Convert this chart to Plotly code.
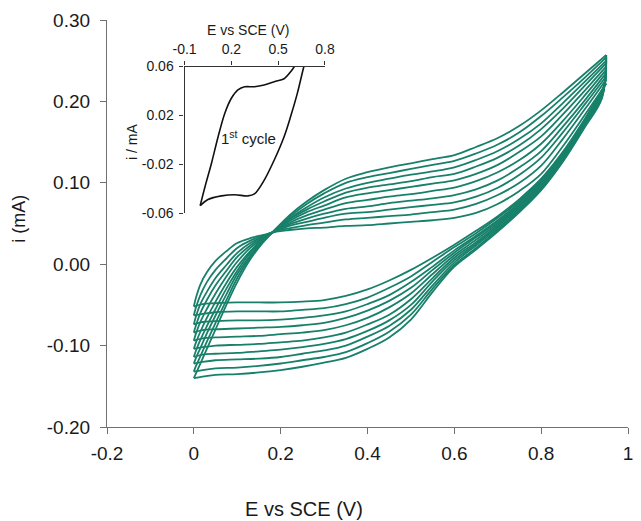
import plotly.graph_objects as go

# ---------------- data ----------------
# potential grid of the forward (anodic) and reverse (cathodic) sweeps, V vs SCE
E_anodic = [0, 0.005, 0.015, 0.03, 0.05, 0.075, 0.1, 0.13, 0.16, 0.19, 0.22, 0.26, 0.3,
            0.35, 0.4, 0.45, 0.5, 0.55, 0.6, 0.65, 0.7, 0.75, 0.8, 0.85, 0.9, 0.95]
E_cathodic = [0.95, 0.94, 0.9, 0.85, 0.8, 0.75, 0.7, 0.65, 0.6, 0.55, 0.5, 0.45, 0.4, 0.35,
              0.3, 0.25, 0.2, 0.15, 0.1, 0.05, 0.02, 0]

# current (mA) of the ten successive cycles, forward sweep
i_anodic = [
    [-0.052, -0.041, -0.025, -0.010, 0.004, 0.016, 0.026, 0.032, 0.036, 0.040, 0.042, 0.044, 0.045, 0.047, 0.048, 0.050, 0.052, 0.054, 0.057, 0.063, 0.074, 0.090, 0.111, 0.145, 0.183, 0.222],
    [-0.063, -0.053, -0.038, -0.022, -0.007, 0.007, 0.020, 0.029, 0.035, 0.041, 0.044, 0.048, 0.051, 0.055, 0.057, 0.059, 0.061, 0.064, 0.067, 0.074, 0.085, 0.100, 0.121, 0.154, 0.190, 0.227],
    [-0.074, -0.064, -0.049, -0.034, -0.017, -0.001, 0.014, 0.026, 0.034, 0.041, 0.047, 0.052, 0.057, 0.062, 0.064, 0.067, 0.070, 0.073, 0.076, 0.083, 0.094, 0.110, 0.131, 0.162, 0.196, 0.231],
    [-0.084, -0.075, -0.060, -0.044, -0.026, -0.008, 0.009, 0.023, 0.033, 0.041, 0.049, 0.056, 0.062, 0.068, 0.071, 0.075, 0.078, 0.081, 0.085, 0.092, 0.103, 0.119, 0.139, 0.169, 0.201, 0.235],
    [-0.094, -0.085, -0.071, -0.055, -0.036, -0.015, 0.003, 0.020, 0.032, 0.042, 0.051, 0.060, 0.067, 0.075, 0.079, 0.083, 0.086, 0.090, 0.094, 0.102, 0.113, 0.128, 0.148, 0.176, 0.207, 0.239],
    [-0.104, -0.096, -0.083, -0.066, -0.046, -0.023, -0.003, 0.016, 0.031, 0.042, 0.053, 0.064, 0.072, 0.082, 0.087, 0.091, 0.095, 0.099, 0.103, 0.111, 0.122, 0.138, 0.157, 0.184, 0.213, 0.243],
    [-0.114, -0.106, -0.093, -0.076, -0.055, -0.030, -0.008, 0.014, 0.030, 0.043, 0.055, 0.067, 0.077, 0.088, 0.094, 0.098, 0.102, 0.107, 0.111, 0.120, 0.131, 0.146, 0.166, 0.191, 0.219, 0.247],
    [-0.122, -0.115, -0.103, -0.085, -0.063, -0.037, -0.012, 0.011, 0.029, 0.043, 0.056, 0.070, 0.082, 0.093, 0.100, 0.105, 0.110, 0.114, 0.119, 0.128, 0.139, 0.154, 0.173, 0.198, 0.224, 0.250],
    [-0.132, -0.125, -0.113, -0.095, -0.072, -0.044, -0.017, 0.009, 0.028, 0.044, 0.058, 0.074, 0.087, 0.100, 0.107, 0.112, 0.117, 0.122, 0.127, 0.136, 0.147, 0.162, 0.182, 0.205, 0.229, 0.254],
    [-0.140, -0.134, -0.122, -0.104, -0.080, -0.050, -0.022, 0.006, 0.027, 0.044, 0.060, 0.077, 0.091, 0.105, 0.113, 0.119, 0.124, 0.129, 0.134, 0.144, 0.155, 0.170, 0.189, 0.211, 0.234, 0.257],
]
# current (mA) of the ten successive cycles, reverse sweep
i_cathodic = [
    [0.222, 0.214, 0.178, 0.138, 0.105, 0.080, 0.059, 0.041, 0.024, 0.008, -0.007, -0.020, -0.031, -0.039, -0.044, -0.046, -0.047, -0.047, -0.047, -0.048, -0.049, -0.052],
    [0.227, 0.213, 0.177, 0.136, 0.103, 0.078, 0.057, 0.038, 0.021, 0.003, -0.015, -0.029, -0.041, -0.049, -0.054, -0.056, -0.058, -0.058, -0.058, -0.059, -0.061, -0.063],
    [0.231, 0.212, 0.176, 0.135, 0.102, 0.076, 0.054, 0.035, 0.017, -0.003, -0.022, -0.038, -0.049, -0.058, -0.063, -0.066, -0.068, -0.069, -0.069, -0.070, -0.071, -0.074],
    [0.235, 0.210, 0.174, 0.134, 0.100, 0.074, 0.052, 0.033, 0.014, -0.007, -0.029, -0.045, -0.057, -0.066, -0.072, -0.075, -0.077, -0.078, -0.079, -0.080, -0.081, -0.084],
    [0.239, 0.209, 0.173, 0.132, 0.098, 0.072, 0.050, 0.030, 0.011, -0.012, -0.036, -0.053, -0.066, -0.075, -0.081, -0.084, -0.086, -0.088, -0.089, -0.090, -0.091, -0.094],
    [0.243, 0.208, 0.172, 0.131, 0.097, 0.071, 0.048, 0.027, 0.008, -0.017, -0.043, -0.062, -0.074, -0.084, -0.090, -0.094, -0.096, -0.098, -0.099, -0.100, -0.102, -0.104],
    [0.247, 0.207, 0.171, 0.130, 0.095, 0.069, 0.046, 0.025, 0.005, -0.021, -0.050, -0.069, -0.082, -0.092, -0.098, -0.102, -0.105, -0.107, -0.109, -0.110, -0.111, -0.114],
    [0.250, 0.206, 0.170, 0.128, 0.094, 0.067, 0.044, 0.023, 0.002, -0.026, -0.056, -0.076, -0.089, -0.100, -0.106, -0.110, -0.114, -0.116, -0.117, -0.118, -0.120, -0.122],
    [0.254, 0.205, 0.169, 0.127, 0.092, 0.066, 0.042, 0.020, -0.001, -0.030, -0.062, -0.083, -0.097, -0.108, -0.114, -0.118, -0.122, -0.125, -0.127, -0.128, -0.130, -0.132],
    [0.257, 0.204, 0.168, 0.126, 0.091, 0.064, 0.040, 0.018, -0.003, -0.034, -0.068, -0.090, -0.104, -0.115, -0.121, -0.126, -0.130, -0.133, -0.135, -0.136, -0.138, -0.140],
]

# inset: first cycle
inset_E_anodic = [0.0, 0.05, 0.136, 0.221, 0.306, 0.348, 0.411, 0.475, 0.538, 0.58, 0.623, 0.665, 0.75, 0.95]
inset_i_anodic = [-0.054, -0.049, -0.046, -0.045, -0.046, -0.0444, -0.033, -0.0166, 0.0025, 0.019, 0.038, 0.06, 0.1, 0.2]
inset_E_cathodic = [0.95, 0.75, 0.65, 0.605, 0.58, 0.538, 0.475, 0.41, 0.348, 0.285, 0.242, 0.2, 0.158, 0.115, 0.073, 0.031, 0.0]
inset_i_cathodic = [0.2, 0.09, 0.066, 0.06, 0.0557, 0.050, 0.0476, 0.0448, 0.0434, 0.0434, 0.0408, 0.034, 0.0217, 0.0025, -0.019, -0.0385, -0.054]

# tick labels
x_ticks = [-0.2, 0, 0.2, 0.4, 0.6, 0.8, 1]
x_ticktext = ["-0.2", "0", "0.2", "0.4", "0.6", "0.8", "1"]
y_ticks = [-0.2, -0.1, 0, 0.1, 0.2, 0.3]
y_ticktext = ["-0.20", "-0.10", "0.00", "0.10", "0.20", "0.30"]
inset_x_ticks = [-0.1, 0.2, 0.5, 0.8]
inset_x_ticktext = ["-0.1", "0.2", "0.5", "0.8"]
inset_y_ticks = [-0.06, -0.02, 0.02, 0.06]
inset_y_ticktext = ["-0.06", "-0.02", "0.02", "0.06"]

# ---------------- figure ----------------
GREEN = "#18806a"
FONT = "Liberation Sans, Arial, sans-serif"
TXT = "#1a1a1a"

fig = go.Figure()
for ia, ic in zip(i_anodic, i_cathodic):
    for ex, iy in ((E_anodic, ia), (E_cathodic, ic)):
        fig.add_trace(go.Scatter(x=ex, y=iy, mode="lines",
                                 line=dict(color=GREEN, width=1.8, shape="spline", smoothing=1.0),
                                 xaxis="x", yaxis="y", showlegend=False, hoverinfo="skip"))

for ex, iy in ((inset_E_anodic, inset_i_anodic), (inset_E_cathodic, inset_i_cathodic)):
    fig.add_trace(go.Scatter(x=ex, y=iy, mode="lines",
                             line=dict(color="#111111", width=1.6, shape="spline", smoothing=0.9),
                             xaxis="x2", yaxis="y2", showlegend=False, hoverinfo="skip"))

AX = "#707070"
fig.update_layout(
    width=641, height=521,
    margin=dict(l=107, r=3, t=20, b=94),
    paper_bgcolor="white", plot_bgcolor="rgba(0,0,0,0)",
    font=dict(family=FONT, color=TXT),
    showlegend=False,
    xaxis=dict(domain=[0, 1], range=[-0.2, 1.0], tickvals=x_ticks, ticktext=x_ticktext,
               showline=True, linecolor=AX, linewidth=1.2, ticks="outside", ticklen=6,
               tickcolor=AX, tickwidth=1.2, showgrid=False, zeroline=False,
               tickfont=dict(size=19, color=TXT), ticklabelstandoff=3),
    yaxis=dict(domain=[0, 1], range=[-0.2, 0.3], tickvals=y_ticks, ticktext=y_ticktext,
               showline=True, linecolor=AX, linewidth=1.2, ticks="outside", ticklen=6,
               tickcolor=AX, tickwidth=1.2, showgrid=False, zeroline=False,
               tickfont=dict(size=19, color=TXT), ticklabelstandoff=6),
    xaxis2=dict(domain=[0.1489, 0.4183], anchor="y2", side="top", range=[-0.1, 0.8],
                tickvals=inset_x_ticks, ticktext=inset_x_ticktext,
                showline=True, linecolor="#333333", linewidth=1.2, ticks="outside", ticklen=4,
                tickcolor="#333333", showgrid=False, zeroline=False,
                tickfont=dict(size=14, color=TXT), ticklabelstandoff=2),
    yaxis2=dict(domain=[0.5258, 0.8857], anchor="x2", range=[-0.06, 0.06],
                tickvals=inset_y_ticks, ticktext=inset_y_ticktext,
                showline=True, linecolor="#333333", linewidth=1.2, ticks="outside", ticklen=4,
                tickcolor="#333333", showgrid=False, zeroline=False,
                tickfont=dict(size=14, color=TXT), ticklabelstandoff=3),
    annotations=[
        dict(text="E vs SCE (V)", xref="paper", yref="paper", x=0.379, y=-0.201,
             showarrow=False, xanchor="center", yanchor="middle",
             font=dict(size=20, color=TXT)),
        dict(text="i (mA)", xref="paper", yref="paper", x=-0.168, y=0.513,
             showarrow=False, textangle=-90, xanchor="center", yanchor="middle",
             font=dict(size=18, color=TXT)),
        dict(text="E vs SCE (V)", xref="paper", yref="paper", x=0.270, y=0.975,
             showarrow=False, xanchor="center", yanchor="middle",
             font=dict(size=14, color=TXT)),
        dict(text="i / mA", xref="paper", yref="paper", x=0.0466, y=0.701,
             showarrow=False, textangle=-90, xanchor="center", yanchor="middle",
             font=dict(size=14, color=TXT)),
        dict(text="1<sup>st</sup> cycle", xref="x2", yref="y2", x=0.313, y=0.0017,
             showarrow=False, xanchor="center", yanchor="middle",
             font=dict(size=15, color=TXT)),
    ],
)

fig.write_html("out.html")
